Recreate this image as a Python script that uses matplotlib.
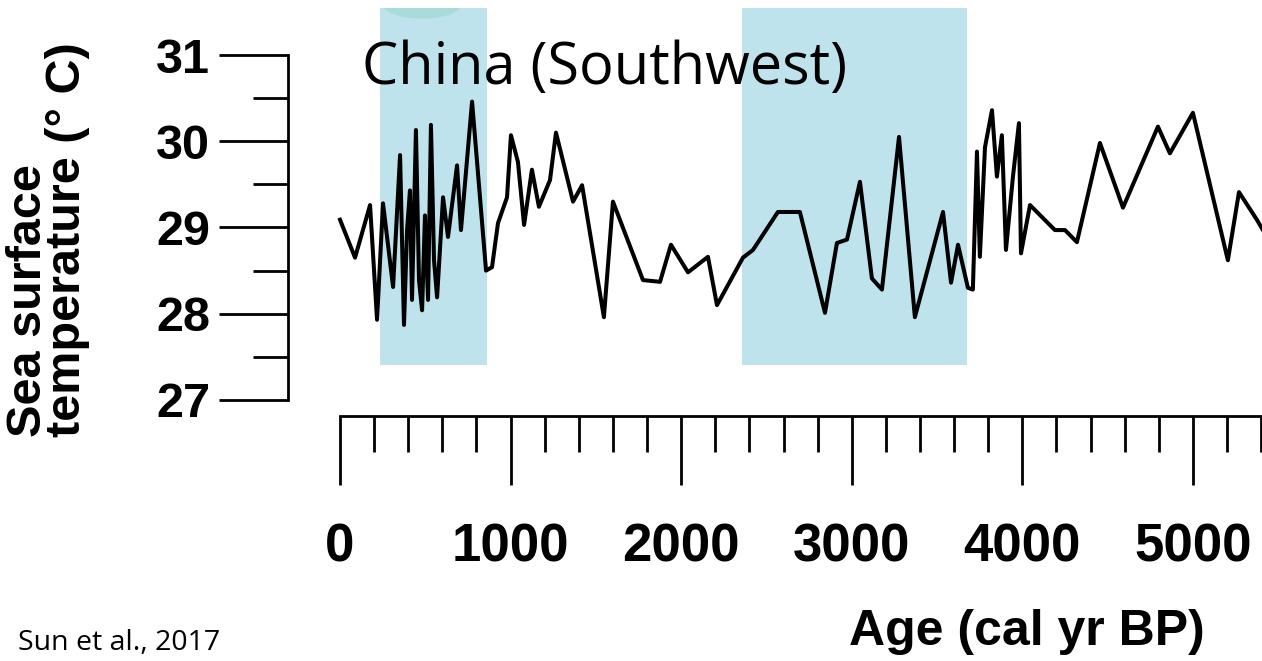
import matplotlib
matplotlib.use("Agg")
import matplotlib.pyplot as plt
from matplotlib.patches import Ellipse, Rectangle
from matplotlib.ticker import FixedLocator

# ---- data ----
age = [0, 88, 176, 217, 252, 311, 352, 375, 393, 410, 422, 445, 463, 481, 498, 516,
       533, 551, 569, 604, 633, 686, 709, 774, 856, 891, 926, 979, 1002, 1043, 1079,
       1125, 1166, 1231, 1266, 1366, 1419, 1547, 1600, 1776, 1876, 1940, 2040, 2157,
       2210, 2362, 2421, 2567, 2696, 2843, 2913, 2972, 3048, 3118, 3177, 3277, 3370,
       3535, 3582, 3623, 3681, 3710, 3734, 3751, 3781, 3822, 3851, 3880, 3904, 3945,
       3980, 3992, 4045, 4191, 4250, 4320, 4455, 4590, 4795, 4865, 5000, 5205, 5270,
       5375, 5428]
sst = [29.09, 28.65, 29.26, 27.93, 29.28, 28.31, 29.84, 27.87, 28.97, 29.43, 28.16,
       30.13, 28.39, 28.04, 29.14, 28.16, 30.19, 28.62, 28.19, 29.35, 28.89, 29.72,
       28.97, 30.46, 28.50, 28.54, 29.05, 29.35, 30.07, 29.76, 29.03, 29.67, 29.24,
       29.55, 30.10, 29.30, 29.49, 27.96, 29.30, 28.39, 28.37, 28.80, 28.48, 28.66,
       28.10, 28.65, 28.74, 29.18, 29.18, 28.01, 28.82, 28.86, 29.53, 28.41, 28.28,
       30.05, 27.96, 29.18, 28.36, 28.80, 28.30, 28.28, 29.88, 28.66, 29.93, 30.36,
       29.59, 30.07, 28.74, 29.59, 30.21, 28.70, 29.26, 28.97, 28.97, 28.83, 29.98,
       29.23, 30.17, 29.86, 30.33, 28.62, 29.41, 29.09, 28.91]
span_starts = [234, 2356]
span_ends = [862, 3675]
span_low, span_high = 27.41, 31.55
yticks_major = [27, 28, 29, 30, 31]
yticks_minor = [27.5, 28.5, 29.5, 30.5]
xticks_major = [0, 1000, 2000, 3000, 4000, 5000]
xticks_minor = list(range(0, 5401, 200))

W, H = 1262, 661
fig = plt.figure(figsize=(W / 100, H / 100), dpi=100)
ax = fig.add_axes([288 / W, (H - 416) / H, 1 - 288 / W, 416 / H])
ax.set_xlim(-305, 5405)
ax.set_ylim(26.814, 31.638)

span_color = "#bfe3ec"
for s, e in zip(span_starts, span_ends):
    ax.fill_between([s, e], span_low, span_high, color=span_color, lw=0, zorder=1)
# faint teal blob at top of first band
rect = Rectangle((span_starts[0], span_low), span_ends[0] - span_starts[0],
                 span_high - span_low, transform=ax.transData, visible=False)
ax.add_patch(rect)
blob = Ellipse((480, 31.6), 470, 0.36, color="#a9dcd8", lw=0, zorder=1.5)
ax.add_patch(blob)
blob.set_clip_path(rect)

ax.plot(age, sst, color="black", lw=2.9, zorder=3)

for side in ["top", "right"]:
    ax.spines[side].set_visible(False)
ax.spines["left"].set_bounds(27, 31)
ax.spines["bottom"].set_bounds(0, 5405)
for side in ["left", "bottom"]:
    ax.spines[side].set_linewidth(2.0)
ax.set_facecolor("none")

ax.set_yticks(yticks_major)
ax.yaxis.set_minor_locator(FixedLocator(yticks_minor))
ax.set_xticks(xticks_major)
ax.xaxis.set_minor_locator(FixedLocator(xticks_minor))
ax.tick_params(axis="y", which="major", length=49.5, width=2.0, pad=6.5)
ax.tick_params(axis="y", which="minor", length=25, width=2.0)
ax.tick_params(axis="x", which="major", length=50, width=2.0, pad=27)
ax.tick_params(axis="x", which="minor", length=26, width=2.0)
ax.set_yticklabels([str(v) for v in yticks_major])
ax.set_xticklabels([str(v) for v in xticks_major])
for lab in ax.get_yticklabels():
    lab.set_fontfamily("Liberation Sans")
    lab.set_fontweight("bold")
    lab.set_fontsize(35)
for lab in ax.get_xticklabels():
    lab.set_fontfamily("Liberation Sans")
    lab.set_fontweight("bold")
    lab.set_fontsize(38)

fig.text(362 / W, 1 - 84 / H, "China (Southwest)", family="Open Sans",
         fontsize=41.5, ha="left", va="baseline")
fig.text(18 / W, 1 - 650 / H, "Sun et al., 2017", family="Open Sans",
         fontsize=20.5, ha="left", va="baseline")
fig.text(1027 / W, 1 - 632 / H, "Age (cal yr BP)", family="Liberation Sans",
         fontweight="bold", fontsize=36, ha="center", va="center")
fig.text(48 / W, 1 - 437 / H, "Sea surface\ntemperature (° C)",
         family="Liberation Sans", fontweight="bold", fontsize=35,
         rotation=90, ha="center", va="bottom", multialignment="left",
         linespacing=0.82)

fig.savefig("out.png", dpi=100)
